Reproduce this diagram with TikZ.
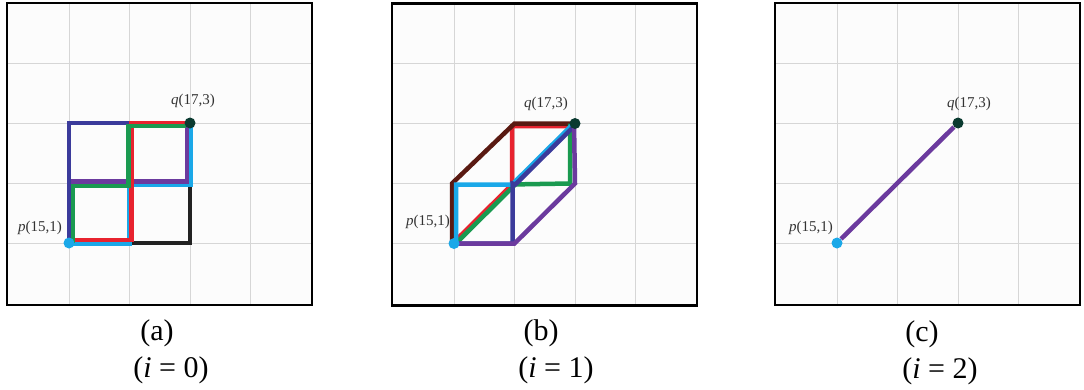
\documentclass[tikz,border=0pt]{standalone}
\usepackage{fontspec}
\setmainfont{Liberation Serif}
\definecolor{cnavy}{HTML}{3B3B9B}
\definecolor{cpurple}{HTML}{6B3A9E}
\definecolor{cgreen}{HTML}{1A9A50}
\definecolor{cred}{HTML}{E8232F}
\definecolor{ccyan}{HTML}{1AA8E8}
\definecolor{cblack}{HTML}{222222}
\definecolor{cbrown}{HTML}{5A1A12}
\definecolor{cq}{HTML}{0A3A30}
\definecolor{cgrid}{HTML}{D6D6D6}
\definecolor{cbg}{HTML}{FCFCFC}
\tikzset{
  gridline/.style={draw=cgrid, line width=1pt},
  frame/.style={draw=black, line width=2.5pt, fill=cbg},
  route/.style={line width=4.5pt, line join=miter, line cap=butt},
  pdot/.style={circle, fill=ccyan, inner sep=0pt, minimum size=11pt},
  qdot/.style={circle, fill=cq, inner sep=0pt, minimum size=11pt},
  lbl/.style={font=\fontsize{15}{18}\selectfont, text=black!80, inner sep=0pt},
  captext/.style={font=\fontsize{30}{34}\selectfont, inner sep=0pt},
}
\newcommand{\panelgrid}[1]{%
  \path[frame] (0,0) rectangle (305,302);
  \foreach \k in {0,1,2,3} {
    \draw[gridline] ({62+60.5*\k},0) -- ({62+60.5*\k},302);
    \draw[gridline] (0,{60+60*\k}) -- (305,{60+60*\k});
  }
  \draw[draw=black, line width=2.5pt] (0,0) rectangle (305,302);
  \foreach \i in {0,1,2} \foreach \j in {0,1,2}
    \coordinate (#1\i\j) at ({62+60.5*\i},{240-60*\j});
}
\begin{document}
\begin{tikzpicture}[x=1pt, y=-1pt]
\useasboundingbox (0,0) rectangle (1084,389);

% ---------------- panel (a)
\begin{scope}[shift={(7,3)}]
\panelgrid{a}
\draw[route, cblack] (a00) -- (a20) -- ([shift={(0,-2)}]a22);
\draw[route, ccyan] ([shift={(0,1)}]a00) -- ([shift={(0,1)}]a10) -- ([shift={(0,2)}]a11) -- ([shift={(1,2)}]a21) -- ([shift={(1,0)}]a22);
\draw[route, cpurple] (a00) -- ([shift={(0,-1.5)}]a01) -- ([shift={(-3,-1.5)}]a21) -- ([shift={(-3,0)}]a22);
\draw[route, cnavy] (a00) -- (a02) -- (a22);
\draw[route, cred] ([shift={(3,-3)}]a00) -- ([shift={(2,-3)}]a10) -- ([shift={(2,0)}]a12) -- ([shift={(-3,0)}]a22);
\draw[route, cgreen] ([shift={(4,0)}]a00) -- ([shift={(4,3)}]a01) -- ([shift={(-1,3)}]a11) -- ([shift={(-1,3)}]a12) -- ([shift={(-4,3)}]a22);
\node[pdot] (pa) at (a00) {};
\node[qdot] (qa) at (a22) {};
\node[lbl] (lpa) at ([shift={(-29,-15)}]a00) {\textit{p}(15,1)};
\node[lbl] (lqa) at ([shift={(3,-22)}]a22) {\textit{q}(17,3)};
\end{scope}

% ---------------- panel (b)
\begin{scope}[shift={(392,3.5)}]
\panelgrid{b}
\draw[route, cred, line join=round] ([shift={(-0.7,-0.7)}]b00) -- ([shift={(-0.7,-0.7)}]b11) -- ([shift={(-2.5,0)}]b11) -- ([shift={(-2.5,2.5)}]b12) -- ([shift={(-4,2.5)}]b22);
\draw[route, cbrown] ([shift={(-2,0)}]b00) -- ([shift={(-2,0)}]b01) -- (b12) -- (b22);
\draw[route, cgreen] ([shift={(0.9,0.9)}]b00) -- ([shift={(0.9,0.9)}]b11) -- ([shift={(-5,0)}]b21) -- ([shift={(-5,0)}]b22);
\draw[route, ccyan] ([shift={(2,0)}]b00) -- ([shift={(2,1)}]b01) -- ([shift={(-1.5,1)}]b11) -- ([shift={(-0.7,-0.7)}]b11) -- ([shift={(-0.7,-0.7)}]b22);
\draw[route, cnavy] (b00) -- ([shift={(-2,0)}]b10) -- ([shift={(-2,0)}]b11) -- ([shift={(0.9,0.9)}]b11) -- ([shift={(0.9,0.9)}]b22);
\draw[route, cpurple] (b00) -- (b10) -- (b21) -- ([shift={(-1,0)}]b22);
\node[pdot] (pb) at (b00) {};
\node[qdot] (qb) at (b22) {};
\node[lbl] (lpb) at ([shift={(-26,-22)}]b00) {\textit{p}(15,1)};
\node[lbl] (lqb) at ([shift={(-29,-20)}]b22) {\textit{q}(17,3)};
\end{scope}

% ---------------- panel (c)
\begin{scope}[shift={(775,3)}]
\panelgrid{c}
\node[pdot] (pc) at (c00) {};
\node[qdot] (qc) at (c22) {};
\draw[route, cpurple] (pc) -- (qc);
\node[lbl] (lpc) at ([shift={(-26,-15)}]c00) {\textit{p}(15,1)};
\node[lbl] (lqc) at ([shift={(11,-19)}]c22) {\textit{q}(17,3)};
\end{scope}

% ---------------- captions
\node[captext] (ca) at (157,333) {(a)};
\node[captext] (ia) at (171,370) {(\textit{i} = 0)};
\node[captext] (cb) at (541,333) {(b)};
\node[captext] (ib) at (556,370) {(\textit{i} = 1)};
\node[captext] (cc) at (922,334) {(c)};
\node[captext] (ic) at (940,371) {(\textit{i} = 2)};
\end{tikzpicture}
\end{document}
